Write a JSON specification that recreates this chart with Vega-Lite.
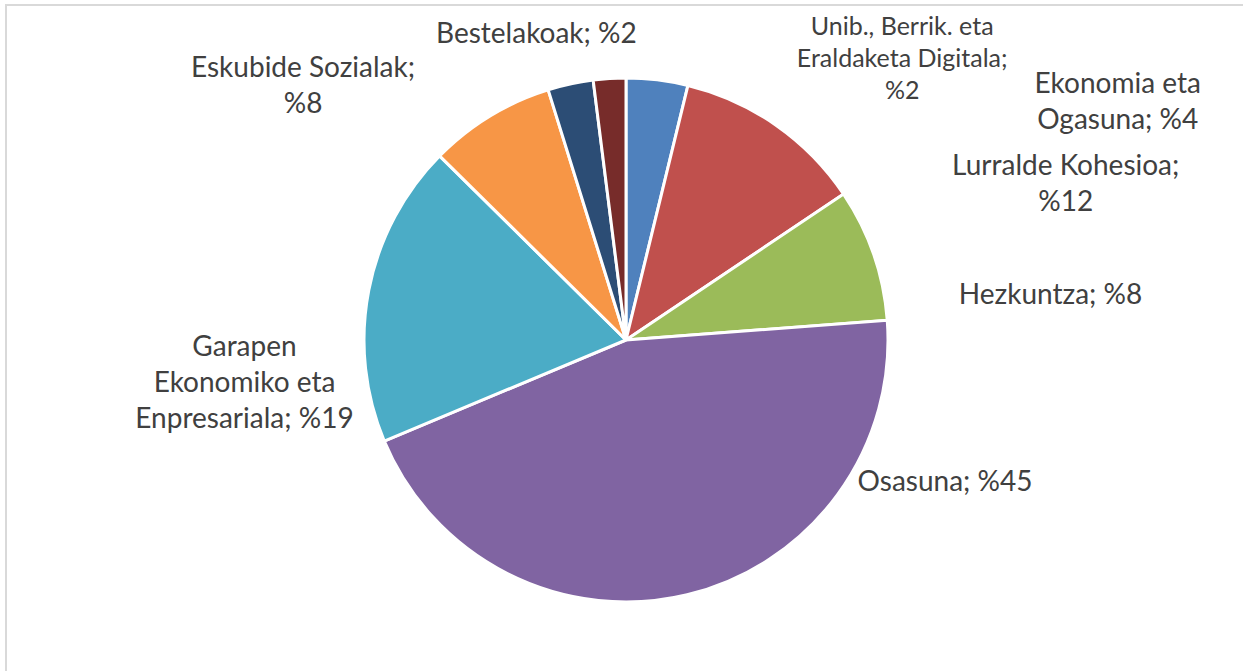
{
  "$schema": "https://vega.github.io/schema/vega-lite/v6.json",
  "width": 1240,
  "height": 670,
  "autosize": {"type": "none"},
  "padding": {"left": 6, "top": 5, "right": 0, "bottom": 0},
  "background": "white",
  "view": {"stroke": "#D9D9D9", "strokeWidth": 2},
  "config": {"view": {"stroke": "#D9D9D9", "strokeWidth": 2}},
  "data": {
    "values": [
      {"order": 1, "name": "Ekonomia eta Ogasuna", "value": 3.8, "label": ["Ekonomia eta", "Ogasuna; %4"]},
      {"order": 2, "name": "Lurralde Kohesioa", "value": 11.8, "label": ["Lurralde Kohesioa;", "%12"]},
      {"order": 3, "name": "Hezkuntza", "value": 8.2, "label": ["Hezkuntza; %8"]},
      {"order": 4, "name": "Osasuna", "value": 44.9, "label": ["Osasuna; %45"]},
      {"order": 5, "name": "Garapen Ekonomiko eta Enpresariala", "value": 18.7, "label": ["Garapen", "Ekonomiko eta", "Enpresariala; %19"]},
      {"order": 6, "name": "Eskubide Sozialak", "value": 7.8, "label": ["Eskubide Sozialak;", "%8"]},
      {"order": 7, "name": "Bestelakoak", "value": 2.8, "label": ["Bestelakoak; %2"]},
      {"order": 8, "name": "Unib., Berrik. eta Eraldaketa Digitala", "value": 2.0, "label": ["Unib., Berrik. eta", "Eraldaketa Digitala;", "%2"]}
    ]
  },
  "encoding": {
    "theta": {"field": "value", "type": "quantitative", "stack": true},
    "order": {"field": "order", "type": "quantitative", "sort": "ascending"}
  },
  "layer": [
    {
      "mark": {"type": "arc", "outerRadius": 262, "stroke": "white", "strokeWidth": 3},
      "encoding": {
        "color": {
          "field": "name",
          "type": "nominal",
          "legend": null,
          "scale": {
            "domain": ["Ekonomia eta Ogasuna", "Lurralde Kohesioa", "Hezkuntza", "Osasuna", "Garapen Ekonomiko eta Enpresariala", "Eskubide Sozialak", "Bestelakoak", "Unib., Berrik. eta Eraldaketa Digitala"],
            "range": ["#4F81BD", "#C0504D", "#9BBB59", "#8064A2", "#4BACC6", "#F79646", "#2C4D75", "#772C2A"]
          }
        }
      }
    },
    {
      "mark": {
        "type": "text",
        "radius": 300,
        "font": "Lato",
        "color": "#404040",
        "align": "center",
        "baseline": "middle",
        "fontSize": {"expr": "datum.order == 8 ? 25 : 28"},
        "lineHeight": {"expr": "datum.order == 8 ? 32 : 36"},
        "dx": {"expr": "datum.order == 1 ? 456 : datum.order == 2 ? 268 : datum.order == 3 ? 141 : datum.order == 4 ? 249 : datum.order == 5 ? -87 : datum.order == 6 ? -167 : datum.order == 7 ? -26 : 295"},
        "dy": {"expr": "datum.order == 1 ? 43 : datum.order == 2 ? 73 : datum.order == 3 ? 54 : datum.order == 4 ? -149 : datum.order == 5 ? 65 : datum.order == 6 ? -15 : datum.order == 7 ? -12 : -14"}
      },
      "encoding": {
        "text": {"field": "label", "type": "nominal"}
      }
    }
  ]
}
